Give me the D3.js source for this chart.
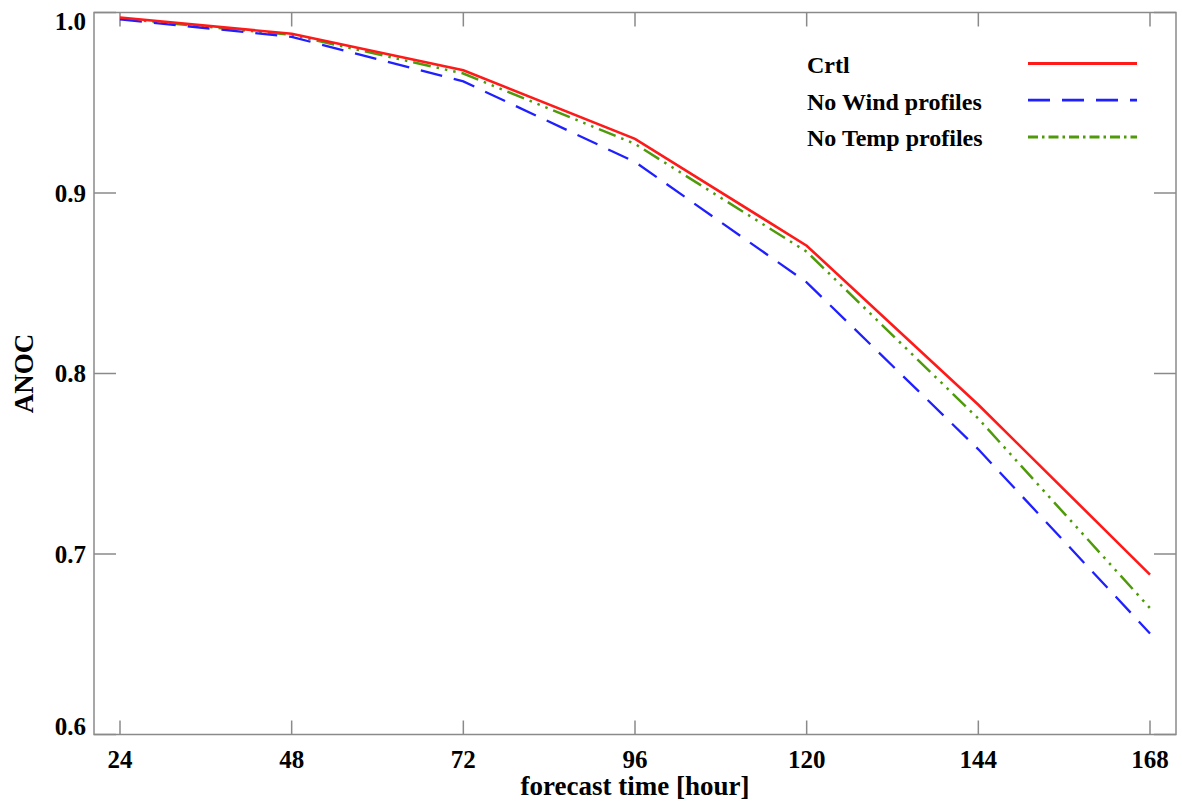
<!DOCTYPE html>
<html><head><meta charset="utf-8">
<script src="https://cdn.jsdelivr.net/npm/d3@7"></script>
<style>body{margin:0;background:#fff}svg{display:block}text{font-family:"Liberation Serif","Times New Roman",serif;font-weight:bold;fill:#000}</style>
</head><body>
<script>
const hours = [24, 48, 72, 96, 120, 144, 168];
const crtl  = [0.9972, 0.9882, 0.9680, 0.9300, 0.8708, 0.7827, 0.6886];
const noWind = [0.9962, 0.9865, 0.9618, 0.9172, 0.8505, 0.7580, 0.6560];
const noTemp = [0.9967, 0.9876, 0.9662, 0.9272, 0.8675, 0.7750, 0.6700];
const seriesNames = ["Crtl", "No Wind profiles", "No Temp profiles"];
const yTicks = [0.6, 0.7, 0.8, 0.9, 1.0];
const xLabel = "forecast time [hour]";
const yLabel = "ANOC";

const W = 1182, H = 808;
const L = 94, R = 1176, T = 12.5, B = 734.5;
const svg = d3.select("body").append("svg").attr("width", W).attr("height", H);

const x = d3.scaleLinear().domain([24, 168]).range([120, 1150]);
const y = d3.scaleLinear().domain([0.6, 1.0]).range([B, T]);

const frameColor = "#8a8a8a";
const g = svg.append("g");
hours.forEach(h => {
  g.append("line").attr("x1", x(h)).attr("x2", x(h)).attr("y1", B).attr("y2", B - 14).attr("stroke", frameColor).attr("stroke-width", 1.5);
  g.append("line").attr("x1", x(h)).attr("x2", x(h)).attr("y1", T).attr("y2", T + 14).attr("stroke", frameColor).attr("stroke-width", 1.5);
});
yTicks.forEach(v => {
  g.append("line").attr("x1", L).attr("x2", L + 22).attr("y1", y(v)).attr("y2", y(v)).attr("stroke", frameColor).attr("stroke-width", 1.5);
  g.append("line").attr("x1", R).attr("x2", R - 22).attr("y1", y(v)).attr("y2", y(v)).attr("stroke", frameColor).attr("stroke-width", 1.5);
});
svg.append("rect").attr("x", L).attr("y", T).attr("width", R - L).attr("height", B - T)
  .attr("fill", "none").attr("stroke", frameColor).attr("stroke-width", 1.5);

yTicks.forEach(v => {
  const half = 8.5;
  const cy = Math.max(T + half, Math.min(B - half, y(v)));
  svg.append("text").attr("x", 86).attr("y", cy + half).attr("text-anchor", "end")
    .style("font-size", "25px").text(d3.format(".1f")(v));
});
hours.forEach(h => {
  svg.append("text").attr("x", x(h)).attr("y", 768).attr("text-anchor", "middle")
    .style("font-size", "25px").text(h);
});
svg.append("text").attr("x", (L + R) / 2).attr("y", 795).attr("text-anchor", "middle")
  .style("font-size", "27px").text(xLabel);
svg.append("text").attr("transform", `translate(33,${(T + B) / 2}) rotate(-90)`).attr("text-anchor", "middle")
  .style("font-size", "27px").text(yLabel);

const styles = [
  {color: "#ff1a1a", width: 2.6, dash: null},
  {color: "#1f1fff", width: 2.3, dash: "22,12"},
  {color: "#4f9a0a", width: 2.5, dash: "18,6,2.5,6,2.5,6,2.5,6"}
];
const data = [crtl, noWind, noTemp];
const line = d3.line().x((d, i) => x(hours[i])).y(d => y(d));
[2, 1, 0].forEach(k => {
  svg.append("path").datum(data[k]).attr("d", line).attr("fill", "none")
    .attr("stroke", styles[k].color).attr("stroke-width", styles[k].width)
    .attr("stroke-dasharray", styles[k].dash);
});

seriesNames.forEach((n, i) => {
  const ly = 63.5 + i * 36.7;
  svg.append("text").attr("x", 807).attr("y", ly + 9.5).style("font-size", "24px").text(n);
  svg.append("line").attr("x1", 1028).attr("x2", 1137).attr("y1", ly).attr("y2", ly)
    .attr("stroke", styles[i].color).attr("stroke-width", styles[i].width + 0.5)
    .attr("stroke-dasharray", i === 2 ? "10,4,2.5,4" : styles[i].dash);
});
</script>
</body></html>
